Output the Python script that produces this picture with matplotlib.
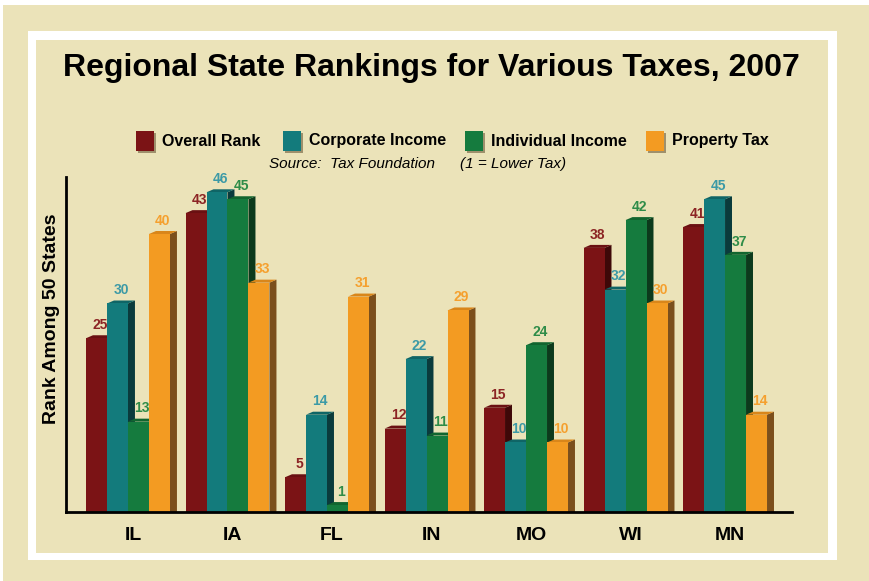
import matplotlib
matplotlib.use("Agg")
import matplotlib.pyplot as plt
from matplotlib.patches import Rectangle, Polygon

# Data
states = ["IL", "IA", "FL", "IN", "MO", "WI", "MN"]
overall = [25, 43, 5, 12, 15, 38, 41]
corporate = [30, 46, 14, 22, 10, 32, 45]
individual = [13, 45, 1, 11, 24, 42, 37]
property_tax = [40, 33, 31, 29, 10, 30, 14]
series_names = ["Overall Rank", "Corporate Income", "Individual Income", "Property Tax"]

# Styles: front, top, side, label
front = ["#7b1315", "#137b7c", "#157b3e", "#f39b22"]
top = ["#6a1012", "#0f6566", "#11652f", "#d9861a"]
side = ["#3e0808", "#0a3b3c", "#0c3a1c", "#7b4f1c"]
label_col = ["#8c2424", "#3c9aa6", "#2e8c48", "#f5a02e"]
beige = "#ebe3b9"

W, H = 869, 581


def px(x, y):
    return x / W, 1 - y / H


fig = plt.figure(figsize=(W / 100, H / 100), dpi=100, facecolor="white")

# background frames
fig.patches.append(Rectangle(px(3, 581), 866 / W, 576 / H, transform=fig.transFigure,
                             facecolor=beige, edgecolor="none", zorder=-3))
fig.patches.append(Rectangle(px(28, 560), 809 / W, 529 / H, transform=fig.transFigure,
                             facecolor="white", edgecolor="none", zorder=-2))
fig.patches.append(Rectangle(px(36, 553), 792 / W, 513 / H, transform=fig.transFigure,
                             facecolor=beige, edgecolor="none", zorder=-1))

ax = fig.add_axes([66 / W, 69 / H, (792 - 66) / W, (512 - 177) / H])
ax.set_facecolor("none")

data = [overall, corporate, individual, property_tax]
bw = 0.211
dx, dy = 0.07, 0.43
for i in range(len(states)):
    for k in range(4):
        h = data[k][i]
        x0 = i - 2 * bw + k * bw
        x1 = x0 + bw
        ax.add_patch(Polygon([(x1, 0), (x1 + dx, 0), (x1 + dx, h + dy), (x1, h)],
                             closed=True, facecolor=side[k], edgecolor="none"))
        ax.add_patch(Polygon([(x0, h), (x0 + dx, h + dy), (x1 + dx, h + dy), (x1, h)],
                             closed=True, facecolor=top[k], edgecolor="none"))
        ax.bar(x0, h, width=bw, align="edge", color=front[k], linewidth=0)
        ax.text(x0 + bw / 2 + dx / 2, h + 1.9, str(h), ha="center", va="center",
                fontsize=10, fontweight="bold", color=label_col[k],
                family="Liberation Sans")

ax.set_xlim(-0.623, 6.673)
ax.set_ylim(0, 48.2)
ax.set_xticks([i + 0.05 for i in range(len(states))])
ax.set_xticklabels(states, fontsize=14, fontweight="bold", family="Liberation Sans")
ax.tick_params(axis="x", length=0, pad=11)
ax.set_yticks([])
for s in ["top", "right"]:
    ax.spines[s].set_visible(False)
for s in ["left", "bottom"]:
    ax.spines[s].set_linewidth(2)

fig.text(*px(52, 319), "Rank Among 50 States", rotation=90, ha="center", va="center",
         fontsize=14, fontweight="bold", family="Liberation Sans")

# title
fig.text(*px(431, 68), "Regional State Rankings for Various Taxes, 2007", ha="center",
         va="center", fontsize=23, fontweight="bold", family="Liberation Sans")

# legend
sq_x = [136, 283, 465, 646]
for k in range(4):
    fig.patches.append(Rectangle(px(sq_x[k] + 2, 153), 18 / W, 20 / H, transform=fig.transFigure,
                                 facecolor="#6b5a3a", edgecolor="none", alpha=0.6))
    fig.patches.append(Rectangle(px(sq_x[k], 151), 18 / W, 20 / H, transform=fig.transFigure,
                                 facecolor=front[k], edgecolor="none"))
    fig.text(*px(sq_x[k] + 26, 141), series_names[k], ha="left", va="center",
             fontsize=11.5, fontweight="bold", family="Liberation Sans")

fig.text(*px(269, 164), "Source:  Tax Foundation", ha="left", va="center",
         fontsize=11, style="italic", family="Liberation Sans")
fig.text(*px(460, 164), "(1 = Lower Tax)", ha="left", va="center",
         fontsize=11, style="italic", family="Liberation Sans")

fig.savefig("out.png", dpi=100, facecolor=fig.get_facecolor())
